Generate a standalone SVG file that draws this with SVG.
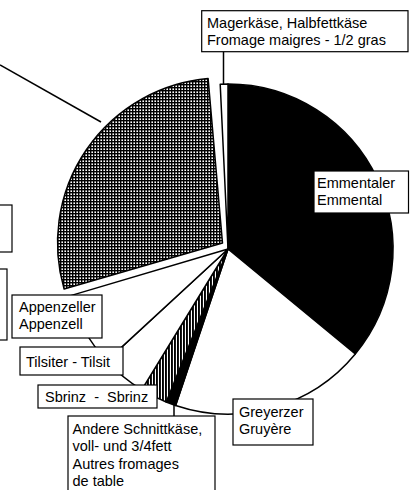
<svg xmlns="http://www.w3.org/2000/svg" width="417" height="490" viewBox="0 0 417 490">
  <style>
    .slice { stroke: #000; stroke-width: 1.5; stroke-linejoin: round; }
    .white { fill: #fff; }
    .black { fill: #000; }
    .grid { fill: url(#gridPat); }
    .stripes { fill: url(#stripePat); }
    .box { fill: #fff; stroke: #000; stroke-width: 1.2; }
    .lead { stroke: #000; stroke-width: 1.5; fill: none; }
    text { font-family: "Liberation Sans", Arial, sans-serif; font-size: 14.5px; fill: #000; }
  </style>
  <defs>
    <pattern id="gridPat" width="3" height="3" patternUnits="userSpaceOnUse">
      <rect width="3" height="3" fill="#fff"/>
      <rect x="0" y="0" width="3" height="1.4" fill="#000"/>
      <rect x="0" y="0" width="1.4" height="3" fill="#000"/>
    </pattern>
    <pattern id="stripePat" width="3" height="3" patternUnits="userSpaceOnUse">
      <rect width="3" height="3" fill="#fff"/>
      <rect x="0" y="0" width="1.9" height="3" fill="#000"/>
    </pattern>
  </defs>

  <g id="pie">
    <path id="slice-emmental" class="slice black" d="M228,249 L228,84 A165,165 0 0 1 355.3,354 Z"/>
    <path id="slice-greyerzer" class="slice white" d="M228,249 L355.3,354 A165,165 0 0 1 175.6,405.5 Z"/>
    <path id="slice-andere" class="slice black" d="M228,249 L175.6,405.5 A165,165 0 0 1 166.2,402 Z"/>
    <path id="slice-sbrinz" class="slice stripes" d="M228,249 L166.2,402 A165,165 0 0 1 141.8,389.7 Z"/>
    <path id="slice-tilsit" class="slice white" d="M228,249 L141.8,389.7 A165,165 0 0 1 106.7,360.9 Z"/>
    <path id="slice-appenzell" class="slice white" d="M228,249 L106.7,360.9 A165,165 0 0 1 69.8,295.9 Z"/>
    <path id="slice-big" class="slice grid" d="M222.5,243 L64.1,289 A165,165 0 0 1 208.1,78.6 Z"/>
    <path id="slice-mager" class="slice white" d="M228,249 L220.2,84.2 A165,165 0 0 1 228,84 Z"/>
  </g>

  <g id="connectors">
    <line class="lead" x1="0" y1="65" x2="101" y2="122"/>
    <line class="lead" x1="223.5" y1="51.5" x2="223.5" y2="84"/>
    <line class="lead" x1="174" y1="405" x2="174" y2="416"/>
  </g>

  <g id="label-left1">
    <rect class="box" x="-5" y="205" width="17" height="47"/>
  </g>
  <g id="label-left2">
    <rect class="box" x="-5" y="269" width="12" height="71"/>
  </g>

  <g id="label-mager">
    <rect class="box" x="201.7" y="10.7" width="206.3" height="41"/>
    <text x="207" y="28">Magerkäse, Halbfettkäse</text>
    <text x="207" y="45">Fromage maigres - 1/2 gras</text>
  </g>

  <g id="label-emmental">
    <rect class="box" x="314" y="171" width="94.5" height="42"/>
    <text x="317" y="188">Emmentaler</text>
    <text x="317" y="205">Emmental</text>
  </g>

  <g id="label-appenzell">
    <rect class="box" x="12" y="295" width="90" height="43"/>
    <text x="19" y="311.7">Appenzeller</text>
    <text x="19" y="329">Appenzell</text>
  </g>

  <g id="label-tilsit">
    <rect class="box" x="20" y="347" width="103" height="28"/>
    <text x="26" y="366.5">Tilsiter - Tilsit</text>
  </g>

  <g id="label-sbrinz">
    <rect class="box" x="38" y="385" width="119" height="23"/>
    <text x="45" y="401.5" style="white-space:pre">Sbrinz  -  Sbrinz</text>
  </g>

  <g id="label-greyerzer">
    <rect class="box" x="233" y="399" width="80" height="46"/>
    <text x="239" y="417">Greyerzer</text>
    <text x="239" y="434">Gruyère</text>
  </g>

  <g id="label-andere">
    <rect class="box" x="68" y="416" width="147" height="80"/>
    <text x="72.5" y="434">Andere Schnittkäse,</text>
    <text x="72.5" y="451.3">voll- und 3/4fett</text>
    <text x="72.5" y="468.6">Autres fromages</text>
    <text x="72.5" y="486">de table</text>
  </g>
</svg>
